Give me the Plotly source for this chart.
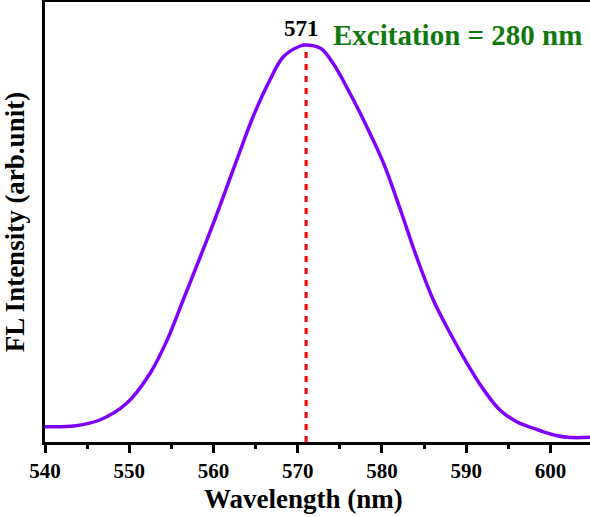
import plotly.graph_objects as go

# Emission spectrum (arbitrary units)
wavelength = [540.0, 540.2, 543.4, 546.5, 549.7, 552.5, 554.5, 556.4, 558.0, 560.0,
              561.6, 563.2, 564.7, 566.7, 568.3, 570.3, 570.9, 572.7, 574.2, 576.2,
              578.2, 580.2, 582.2, 584.1, 586.1, 588.1, 590.1, 592.1, 594.0, 596.0,
              598.0, 600.0, 602.0, 604.7]
intensity = [15.3, 15.3, 16.0, 22.0, 38.7, 69.0, 102.0, 142.0, 176.0, 219.0,
             255.3, 292.0, 325.3, 362.0, 385.3, 396.0, 397.0, 393.7, 378.7, 348.7,
             315.3, 278.7, 232.0, 185.3, 142.0, 108.7, 78.7, 52.0, 32.0, 20.3,
             13.7, 8.0, 4.7, 4.7]

peak_wavelength = 571
peak_intensity = 397.0
peak_label = "571"
excitation_label = "Excitation = 280 nm"
x_title = "Wavelength (nm)"
y_title = "FL Intensity (arb.unit)"
x_ticks = [540, 550, 560, 570, 580, 590, 600]
x_minor_ticks = [545, 555, 565, 575, 585, 595]

FONT = "Liberation Serif"

fig = go.Figure()
fig.add_trace(go.Scatter(
    x=[peak_wavelength, peak_wavelength], y=[0, peak_intensity],
    mode="lines", line=dict(color="#ff0000", width=3, dash="6px,6px"),
    showlegend=False, hoverinfo="skip"))
fig.add_trace(go.Scatter(
    x=wavelength, y=intensity, mode="lines",
    line=dict(color="#8000ff", width=3.5, shape="spline", smoothing=1.0),
    showlegend=False))

fig.add_annotation(x=570.5, y=414, xref="x", yref="y",
                   text=peak_label, showarrow=False, yanchor="middle",
                   font=dict(family=FONT, size=23, color="black", weight="bold"))
fig.add_annotation(x=589.0, y=407, xref="x", yref="y",
                   text=excitation_label, showarrow=False, yanchor="middle",
                   font=dict(family=FONT, size=29, color="#107a10", weight="bold"))
# x-axis title (slightly left of plot centre, as in the reference)
fig.add_annotation(x=0.475, y=-0.1295, xref="paper", yref="paper",
                   text=x_title, showarrow=False, xanchor="center", yanchor="middle",
                   font=dict(family=FONT, size=27, color="black", weight="bold"))

fig.update_layout(
    width=590, height=517,
    margin=dict(l=45, r=0, t=2, b=75),
    plot_bgcolor="white", paper_bgcolor="white",
    font=dict(family=FONT, color="black", weight="bold"),
    xaxis=dict(
        range=[540, 604.7], tickvals=x_ticks, ticktext=[str(v) for v in x_ticks],
        showline=True, linecolor="black", linewidth=3, mirror=True,
        ticks="outside", ticklen=8, tickwidth=3, tickcolor="black",
        minor=dict(tickvals=x_minor_ticks, ticks="outside",
                   ticklen=4, tickwidth=3, tickcolor="black"),
        showgrid=False, zeroline=False,
        tickfont=dict(family=FONT, size=21, color="black", weight="bold"),
    ),
    yaxis=dict(
        range=[0, 440], showline=True, linecolor="black", linewidth=3,
        showticklabels=False, ticks="", showgrid=False, zeroline=False,
        title=dict(text=y_title, standoff=14,
                   font=dict(family=FONT, size=27, color="black", weight="bold")),
    ),
)

fig.write_html("out.html", config={"displayModeBar": False},
               post_script="document.body.style.margin='0';document.body.style.overflow='hidden';")
